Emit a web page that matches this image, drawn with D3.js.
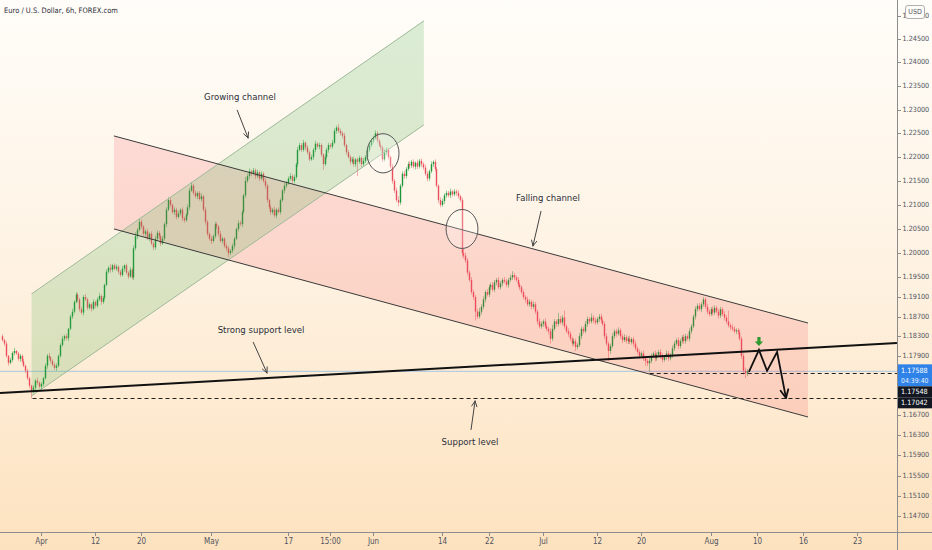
<!DOCTYPE html>
<html><head><meta charset="utf-8">
<script src="https://cdn.jsdelivr.net/npm/d3@7/dist/d3.min.js"></script>
<style>body{margin:0;background:#fff;} svg{display:block;}</style>
</head><body>
<svg id="c" width="932" height="550"></svg>
<script>
// ---- data (6h EUR/USD bars) ----
const firstOpen = 1.1830;
const closes = [
1.1822,1.1815,1.1790,1.1776,1.1782,1.1796,1.1800,1.1795,1.1784,1.1790,
1.1779,1.1770,1.1760,1.1745,1.1730,1.1718,1.1726,1.1740,1.1736,1.1728,
1.1733,1.1745,1.1770,1.1790,1.1787,1.1780,1.1772,1.1766,1.1770,1.1790,
1.1812,1.1825,1.1830,1.1826,1.1845,1.1870,1.1880,1.1900,1.1915,1.1905,
1.1885,1.1878,1.1910,1.1905,1.1888,1.1895,1.1886,1.1900,1.1892,1.1905,
1.1912,1.1900,1.1908,1.1935,1.1962,1.1970,1.1966,1.1975,1.1968,1.1972,
1.1962,1.1955,1.1968,1.1975,1.1960,1.1952,1.1966,1.1950,1.2010,1.2035,
1.2048,1.2065,1.2055,1.2040,1.2045,1.2030,1.2040,1.2020,1.2012,1.2030,
1.2042,1.2035,1.2020,1.2030,1.2060,1.2090,1.2110,1.2100,1.2085,1.2090,
1.2075,1.2082,1.2090,1.2072,1.2068,1.2080,1.2095,1.2130,1.2140,1.2125,
1.2118,1.2125,1.2112,1.2118,1.2090,1.2065,1.2040,1.2030,1.2025,1.2035,
1.2060,1.2055,1.2040,1.2025,1.2030,1.2015,1.2010,1.2000,1.2005,1.2015,
1.2030,1.2050,1.2062,1.2060,1.2085,1.2120,1.2150,1.2160,1.2170,1.2165,
1.2172,1.2160,1.2168,1.2155,1.2165,1.2150,1.2140,1.2110,1.2095,1.2085,
1.2090,1.2078,1.2090,1.2085,1.2110,1.2130,1.2140,1.2145,1.2155,1.2160,
1.2150,1.2158,1.2185,1.2215,1.2225,1.2215,1.2230,1.2220,1.2210,1.2195,
1.2200,1.2215,1.2228,1.2222,1.2225,1.2205,1.2185,1.2200,1.2215,1.2225,
1.2222,1.2230,1.2255,1.2262,1.2255,1.2250,1.2245,1.2225,1.2210,1.2200,
1.2190,1.2195,1.2185,1.2195,1.2190,1.2198,1.2185,1.2192,1.2200,1.2215,
1.2225,1.2235,1.2240,1.2250,1.2235,1.2225,1.2220,1.2195,1.2210,1.2215,
1.2200,1.2180,1.2150,1.2130,1.2110,1.2105,1.2140,1.2165,1.2160,1.2175,
1.2185,1.2182,1.2190,1.2180,1.2188,1.2180,1.2192,1.2185,1.2178,1.2165,
1.2155,1.2170,1.2185,1.2190,1.2175,1.2140,1.2110,1.2100,1.2108,1.2120,
1.2125,1.2120,1.2128,1.2122,1.2128,1.2125,1.2118,1.2110,1.2000,1.1995,
1.1985,1.1960,1.1945,1.1920,1.1910,1.1880,1.1870,1.1880,1.1890,1.1905,
1.1920,1.1915,1.1930,1.1935,1.1925,1.1940,1.1945,1.1930,1.1938,1.1945,
1.1942,1.1935,1.1945,1.1950,1.1955,1.1950,1.1945,1.1935,1.1930,1.1920,
1.1910,1.1905,1.1895,1.1900,1.1890,1.1895,1.1880,1.1860,1.1850,1.1855,
1.1860,1.1850,1.1845,1.1840,1.1825,1.1845,1.1860,1.1855,1.1865,1.1858,
1.1868,1.1850,1.1840,1.1835,1.1825,1.1815,1.1820,1.1808,1.1812,1.1830,
1.1845,1.1840,1.1855,1.1865,1.1860,1.1868,1.1862,1.1858,1.1865,1.1870,
1.1862,1.1855,1.1830,1.1815,1.1800,1.1810,1.1830,1.1840,1.1835,1.1842,
1.1830,1.1822,1.1828,1.1820,1.1825,1.1818,1.1824,1.1815,1.1805,1.1798,
1.1790,1.1795,1.1785,1.1780,1.1775,1.1780,1.1790,1.1795,1.1785,1.1792,
1.1798,1.1790,1.1782,1.1788,1.1795,1.1785,1.1792,1.1805,1.1815,1.1822,
1.1810,1.1820,1.1828,1.1820,1.1830,1.1825,1.1840,1.1850,1.1870,1.1885,
1.1892,1.1885,1.1895,1.1905,1.1890,1.1880,1.1875,1.1885,1.1878,1.1888,
1.1880,1.1872,1.1885,1.1875,1.1868,1.1860,1.1852,1.1848,1.1845,1.1840,
1.1842,1.1838,1.1825,1.1790,1.1760,1.1755,1.1759];
// wick lengths beyond the body, in pips
const upperWick = [
4,3,5,2,4,3,6,2,3,4, 3,5,2,4,3,2,5,3,6,2, 4,3,5,4,6,2,3,4,5,3, 4,6,3,5,2,4,6,3,5,4,
3,5,4,6,3,4,2,5,3,4, 6,3,4,2,5,4,8,3,4,5, 3,4,6,2,4,3,5,4,6,8, 4,6,5,3,4,6,3,5,4,6,
5,4,3,6,4,5,6,4,3,5, 4,6,3,5,4,3,6,5,8,4, 5,3,4,6,3,5,4,3,6,4, 5,4,3,6,4,3,5,4,3,5,
4,3,6,5,4,3,8,5,6,4, 5,4,6,3,5,4,6,4,3,5, 4,6,3,5,4,3,6,5,4,6, 4,5,3,6,5,4,6,3,5,4,
5,4,6,3,5,4,3,6,4,5, 4,6,5,4,8,5,4,6,3,5, 4,5,6,3,4,5,3,6,4,5, 6,4,5,6,4,3,5,4,6,5,
4,3,5,4,6,8,4,5,6,4, 5,6,4,5,3,6,4,5,4,6, 5,4,6,3,5,4,3,6,5,4, 5,4,6,3,5,4,6,3,5,8,
6,5,4,6,5,4,6,8,5,6, 4,6,5,4,6,5,4,6,5,4, 6,5,4,6,8,5,4,6,5,4, 5,4,6,5,4,6,5,4,6,5,
4,6,5,4,6,8,5,4,12,6, 5,14,4,6,5,4,6,5,4,6, 5,4,6,5,4,8,5,6,4,5, 6,4,5,6,4,5,6,4,5,6,
4,5,6,4,5,6,4,5,6,4, 5,4,6,5,4,6,5,4,6,5, 4,6,5,4,6,5,4,6,5,4, 6,5,4,6,5,4,6,5,4,6,
5,6,4,5,4,6,5,4,6,5, 4,6,5,4,6,5,22,4,6,5, 4,5,6,4,5,6,4];
const lowerWick = [
3,5,4,6,3,4,5,3,4,6, 4,3,5,4,6,14,3,5,4,3, 5,4,3,6,4,5,3,4,6,3, 4,3,5,4,6,3,5,4,3,6,
5,4,6,3,5,4,6,3,5,4, 3,6,4,5,3,4,6,5,3,4, 5,4,3,6,4,5,3,4,5,4, 6,3,5,4,6,3,5,4,6,5,
4,6,5,3,4,6,3,5,4,6, 5,3,4,6,5,3,4,6,3,5, 4,6,3,5,4,6,5,4,6,3, 4,5,6,3,5,4,6,8,4,5,
6,3,5,4,6,3,5,4,6,5, 3,6,4,5,3,4,6,5,4,6, 5,4,6,3,5,4,6,5,3,4, 6,5,4,6,3,5,4,6,5,4,
3,6,5,4,6,5,12,4,5,6, 4,5,3,6,4,5,6,4,5,3, 6,4,5,6,30,4,6,5,4,6, 5,4,6,3,5,4,6,5,4,6,
5,4,6,5,4,8,5,4,6,5, 4,6,5,4,6,5,4,6,5,4, 6,5,4,6,5,4,6,5,4,6, 5,4,6,5,4,6,5,4,8,6,
5,6,4,5,6,18,5,4,6,5, 6,4,5,6,4,5,6,4,5,6, 4,5,6,4,5,6,4,5,6,4, 5,6,4,5,6,4,5,6,4,5,
6,4,5,6,10,5,4,6,5,4, 6,5,4,6,5,6,4,8,5,4, 6,5,4,6,5,4,6,5,4,6, 5,4,6,5,20,6,4,5,6,4,
5,6,4,5,6,4,5,6,4,5, 6,4,5,10,6,18,5,4,6,5, 4,6,5,4,6,5,4,6,5,4, 6,5,4,6,5,4,6,5,4,6,
5,4,6,5,4,6,5,4,6,5, 4,6,5,4,6,5,4,6,5,4, 6,5,4,6,8,10,6];

const yTicks = [1.25,1.245,1.24,1.235,1.23,1.225,1.22,1.215,1.21,1.205,1.2,1.195,1.191,1.187,1.183,1.179,1.167,1.163,1.159,1.155,1.151,1.147];
const xTickIdx = [20,48,72,108,148,170,192,228,252,280,308,331,367,391,415,443];
const xTickLabels = ["Apr","12","20","May","17","15:00","Jun","14","22","Jul","12","20","Aug","10","16","23"];
const title = "Euro / U.S. Dollar, 6h, FOREX.com";
const lastPrice = 1.17588, countdown = "04:39:40";
const levelA = 1.17548, levelAStart = 335.5;
const levelB = 1.17042, levelBStart = 15.7;

// drawings, in (bar index, price)
const growChannel = [[15.2,1.19163],[218.5,1.24889],[218.5,1.22675],[15.2,1.17091]];
const fallChannel = [[57.9,1.22443],[417.5,1.18569],[417.5,1.16669],[57.9,1.20501]];
const strongSupport = [[-1.14,1.17151],[463.6,1.18162]];
const ellipses = [{i0:189,i1:205.6,p0:1.2249,p1:1.21667},{i0:230,i1:246.5,p0:1.20905,p1:1.20098}];
const zigzag = [[386.9,1.17575],[392.1,1.18021],[396.3,1.17596],[401.5,1.17980],[406.1,1.17051]];
const greenArrow = [392.1,1.18183];
const notes = [
  {text:"Growing channel", at:[123.2,1.23246], from:[121.7,1.22992], to:[127.4,1.22401]},
  {text:"Falling channel", at:[282.8,1.21124], from:[279.2,1.20874], to:[275.0,1.20149]},
  {text:"Strong support level", at:[134.1,1.18406], from:[130.0,1.18183], to:[137.2,1.17555]},
  {text:"Support level", at:[242.4,1.16149], from:[242.9,1.16409], to:[245.0,1.16990]}
];

// ---- drawing ----
const W = 932, H = 550, plotR = 897, plotB = 532;
const svg = d3.select("#c");
const x = d3.scaleLinear().domain([0,460]).range([2.2, 2.2+460*1.93]);
const y = d3.scaleLog().domain([1.147,1.245]).range([516,39]);
const P = d => [x(d[0]), y(d[1])];
const NARROW = "'Liberation Sans Narrow','DejaVu Sans Condensed','Liberation Sans',sans-serif";

const defs = svg.append("defs");
const g = defs.append("linearGradient").attr("id","bg").attr("x1",0).attr("y1",0).attr("x2",0).attr("y2",1);
g.append("stop").attr("offset","0%").attr("stop-color","#fffdf9");
g.append("stop").attr("offset","45%").attr("stop-color","#fef3e4");
g.append("stop").attr("offset","100%").attr("stop-color","#fde2bf");
defs.append("clipPath").attr("id","plot").append("rect").attr("width",plotR).attr("height",plotB);
svg.append("rect").attr("width",W).attr("height",H).attr("fill","url(#bg)");

const plot = svg.append("g").attr("clip-path","url(#plot)");

// price line
plot.append("line").attr("x1",0).attr("x2",plotR).attr("y1",y(lastPrice)).attr("y2",y(lastPrice))
  .attr("stroke","#a8c4e2").attr("stroke-width",1);

// candles
const bars = closes.map((c,i)=>{
  const o = i===0 ? firstOpen : closes[i-1];
  return {i,o,c,h:Math.max(o,c)+upperWick[i]/10000,l:Math.min(o,c)-lowerWick[i]/10000};
});
const GREEN="#1a9638", RED="#ea4d5c";
const cg = plot.append("g");
cg.selectAll("line.w").data(bars).join("line").attr("class","w")
  .attr("x1",d=>Math.round(x(d.i))+0.5).attr("x2",d=>Math.round(x(d.i))+0.5)
  .attr("y1",d=>y(d.h)).attr("y2",d=>y(d.l))
  .attr("stroke",d=>d.c>=d.o?GREEN:RED).attr("stroke-opacity",0.45).attr("stroke-width",1);
cg.selectAll("rect.b").data(bars).join("rect").attr("class","b")
  .attr("x",d=>Math.round(x(d.i))-0.2).attr("width",1.4)
  .attr("y",d=>Math.min(y(d.o),y(d.c)))
  .attr("height",d=>Math.max(1,Math.abs(y(d.o)-y(d.c))))
  .attr("fill",d=>d.c>=d.o?GREEN:RED);

// channels
const poly = pts => "M"+pts.map(p=>P(p).join(",")).join("L")+"Z";
plot.append("path").attr("d",poly(fallChannel)).attr("fill","rgba(242,70,80,0.16)");
plot.append("path").attr("d",poly(growChannel)).attr("fill","rgba(76,175,80,0.2)");
const seg = (a,b,st,sw)=>plot.append("line").attr("x1",P(a)[0]).attr("y1",P(a)[1]).attr("x2",P(b)[0]).attr("y2",P(b)[1]).attr("stroke",st).attr("stroke-width",sw);
seg(growChannel[0],growChannel[1],"#9fb99a",1);
seg(growChannel[3],growChannel[2],"#9fb99a",1);
seg(fallChannel[0],fallChannel[1],"#3a3a3a",1);
seg(fallChannel[3],fallChannel[2],"#3a3a3a",1);

// support line
seg(strongSupport[0],strongSupport[1],"#111",2);

// dashed levels
[[levelB,levelBStart],[levelA,levelAStart]].forEach(([v,s])=>{
  plot.append("line").attr("x1",x(s)).attr("x2",plotR).attr("y1",Math.round(y(v))+0.5).attr("y2",Math.round(y(v))+0.5)
    .attr("stroke","#222").attr("stroke-width",1).attr("stroke-dasharray","4,3");
});

// ellipses
ellipses.forEach(e=>{
  const cx=(x(e.i0)+x(e.i1))/2, cy=(y(e.p0)+y(e.p1))/2;
  plot.append("ellipse").attr("cx",cx).attr("cy",cy).attr("rx",(x(e.i1)-x(e.i0))/2).attr("ry",Math.abs(y(e.p1)-y(e.p0))/2)
    .attr("fill","rgba(255,255,255,0.25)").attr("stroke","#555").attr("stroke-width",1);
});

function arrowHead(gr,a,b,len,col,sw){
  const ang=Math.atan2(b[1]-a[1],b[0]-a[0]);
  [0.45,-0.45].forEach(d=>{
    gr.append("line").attr("x1",b[0]).attr("y1",b[1])
      .attr("x2",b[0]-len*Math.cos(ang+d)).attr("y2",b[1]-len*Math.sin(ang+d))
      .attr("stroke",col).attr("stroke-width",sw).attr("stroke-linecap","round");
  });
}

// zigzag projection
const zz = zigzag.map(P);
plot.append("path").attr("d",d3.line()(zz)).attr("fill","none").attr("stroke","#111").attr("stroke-width",1.8).attr("stroke-linejoin","miter");
arrowHead(plot,zz[zz.length-2],zz[zz.length-1],9,"#111",1.8);

// green arrow marker
const ga = P(greenArrow);
plot.append("path").attr("transform",`translate(${ga[0]},${ga[1]})`)
  .attr("d","M-1.6,-5 L1.6,-5 L1.6,-0.5 L4.2,-0.5 L0,4 L-4.2,-0.5 L-1.6,-0.5 Z").attr("fill","#2f9a2f");

// notes
notes.forEach(n=>{
  const t=P(n.at);
  plot.append("text").attr("x",t[0]).attr("y",t[1]).attr("text-anchor","middle").attr("dominant-baseline","middle")
    .attr("font-family",NARROW).attr("font-size",9.5).attr("fill","#2a2e39").text(n.text);
  const a=P(n.from), b=P(n.to);
  plot.append("line").attr("x1",a[0]).attr("y1",a[1]).attr("x2",b[0]).attr("y2",b[1]).attr("stroke","#444").attr("stroke-width",1);
  arrowHead(plot,a,b,6,"#444",1);
});

// axes
svg.append("line").attr("x1",plotR+0.5).attr("x2",plotR+0.5).attr("y1",0).attr("y2",H).attr("stroke","#8c8c8c");
svg.append("line").attr("x1",0).attr("x2",W).attr("y1",plotB+0.5).attr("y2",plotB+0.5).attr("stroke","#8c8c8c");

const ya = svg.append("g");
yTicks.forEach(v=>{
  const yy=Math.round(y(v))+0.5;
  ya.append("line").attr("x1",plotR).attr("x2",plotR+4).attr("y1",yy).attr("y2",yy).attr("stroke","#8c8c8c");
  ya.append("text").attr("x",plotR+5.5).attr("y",yy).attr("dominant-baseline","middle")
    .attr("font-family",NARROW).attr("font-size",7.2).attr("fill","#50535e").text(v.toFixed(5));
});
const xa = svg.append("g");
xTickIdx.forEach((ix,k)=>{
  const xx=Math.round(x(ix))+0.5;
  xa.append("line").attr("x1",xx).attr("x2",xx).attr("y1",plotB).attr("y2",plotB+4).attr("stroke","#8c8c8c");
  xa.append("text").attr("x",xx).attr("y",plotB+12).attr("text-anchor","middle")
    .attr("font-family",NARROW).attr("font-size",8).attr("fill","#50535e").text(xTickLabels[k]);
});

// price labels
const yl = y(lastPrice);
const blueTop = yl-7, blueBot = yl+15;
svg.append("rect").attr("x",plotR+1).attr("y",blueTop).attr("width",W-plotR-1).attr("height",blueBot-blueTop).attr("fill","#2f83e8");
svg.append("text").attr("x",plotR+4).attr("y",yl).attr("dominant-baseline","middle").attr("font-family",NARROW).attr("font-size",7.2).attr("fill","#fff").text(lastPrice.toFixed(5));
svg.append("text").attr("x",plotR+4).attr("y",yl+9.5).attr("dominant-baseline","middle").attr("font-family",NARROW).attr("font-size",6.8).attr("fill","#e6f0ff").text(countdown);
const aTop = Math.max(blueBot, y(levelA)-5.5);
svg.append("rect").attr("x",plotR+1).attr("y",aTop).attr("width",W-plotR-1).attr("height",11).attr("fill","#131722");
svg.append("text").attr("x",plotR+4).attr("y",aTop+5.5).attr("dominant-baseline","middle").attr("font-family",NARROW).attr("font-size",7.2).attr("fill","#fff").text(levelA.toFixed(5));
const bTop = Math.max(aTop+11, y(levelB)-5.5);
svg.append("rect").attr("x",plotR+1).attr("y",bTop).attr("width",W-plotR-1).attr("height",11).attr("fill","#131722");
svg.append("text").attr("x",plotR+4).attr("y",bTop+5.5).attr("dominant-baseline","middle").attr("font-family",NARROW).attr("font-size",7.2).attr("fill","#fff").text(levelB.toFixed(5));

// currency box
svg.append("rect").attr("x",905.5).attr("y",5.5).attr("width",19).attr("height",13).attr("rx",2.5).attr("fill","#fffdf9").attr("stroke","#b0b0b0");
svg.append("text").attr("x",915).attr("y",12.5).attr("text-anchor","middle").attr("dominant-baseline","middle").attr("font-family",NARROW).attr("font-size",7).attr("fill","#50535e").text("USD");

// title
svg.append("text").attr("x",4).attr("y",11).attr("dominant-baseline","middle").attr("font-family",NARROW).attr("font-size",7.5).attr("fill","#2a2e39").text(title);
</script>
</body></html>
